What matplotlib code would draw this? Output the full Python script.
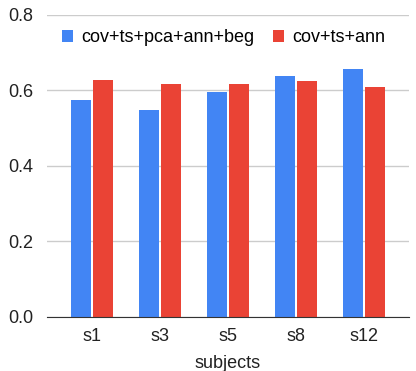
import numpy as np
import matplotlib.pyplot as plt

plt.rcParams['font.family'] = ['Liberation Sans', 'DejaVu Sans']

subjects = ["s1", "s3", "s5", "s8", "s12"]
full = [0.575, 0.548, 0.596, 0.638, 0.657]
base = [0.628, 0.617, 0.617, 0.625, 0.609]
labels = ["cov+ts+pca+ann+beg", "cov+ts+ann"]

fig = plt.figure(figsize=(4.16, 3.71), dpi=100)
ax = fig.add_axes([0.113, 0.146, 0.870, 0.814])

x = np.arange(len(subjects))
w = 0.294
ax.bar(x - 0.162, full, w, color="#4285F4", label=labels[0], zorder=3)
ax.bar(x + 0.162, base, w, color="#EA4335", label=labels[1], zorder=3)

ax.set_xlim(-0.662, len(subjects) - 1 + 0.662)
ax.set_ylim(0, 0.8)
ax.set_yticks([0, 0.2, 0.4, 0.6, 0.8])
ax.set_yticklabels(["0.0", "0.2", "0.4", "0.6", "0.8"])
ax.set_xticks(x)
ax.set_xticklabels(subjects)
ax.grid(axis="y", color="#cccccc", linewidth=1, zorder=0)
for s in ["top", "right", "left"]:
    ax.spines[s].set_visible(False)
ax.spines["bottom"].set_color("#333333")
ax.spines["bottom"].set_zorder(4)
ax.tick_params(axis="both", length=0, labelsize=13, colors="#222222")
ax.tick_params(axis="y", pad=10)
ax.tick_params(axis="x", pad=8)
ax.set_xlabel("subjects", fontsize=13, color="#222222", labelpad=7)

ax.legend(loc="upper center", bbox_to_anchor=(0.488, 1.0), ncol=2, frameon=False,
          fontsize=13, handlelength=0.6, handleheight=0.6, handletextpad=0.5,
          columnspacing=1.0, borderaxespad=0.4)

fig.savefig("out.png", dpi=100)
